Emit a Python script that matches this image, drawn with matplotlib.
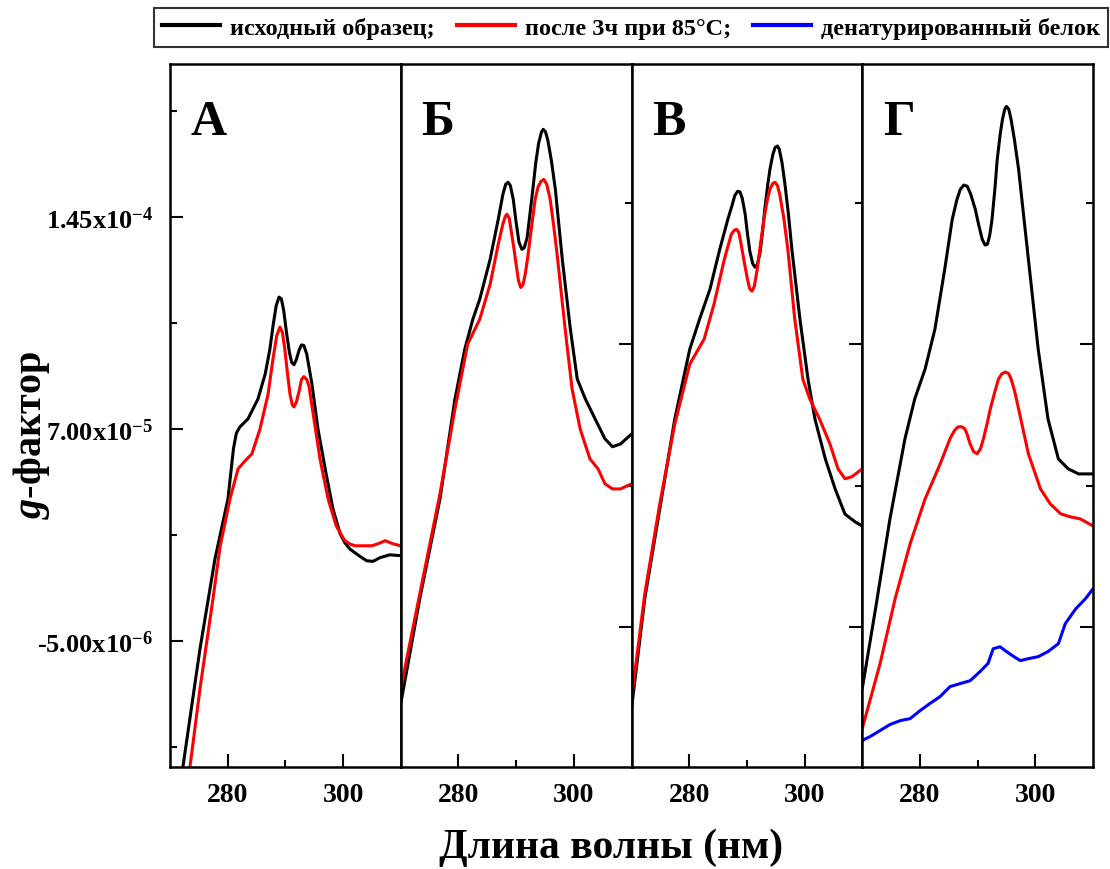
import numpy as np
import matplotlib
matplotlib.use('Agg')
import matplotlib.pyplot as plt
from matplotlib.lines import Line2D

plt.rcParams['font.family'] = ['Liberation Serif', 'DejaVu Serif']
plt.rcParams['font.weight'] = 'bold'
plt.rcParams['mathtext.fontset'] = 'custom'
plt.rcParams['mathtext.rm'] = 'Liberation Serif:bold'
plt.rcParams['mathtext.bf'] = 'Liberation Serif:bold'
plt.rcParams['mathtext.it'] = 'Liberation Serif:bold:italic'

# CD spectra, g-factor in units of 1e-5
wl_a_k = [272.25, 275.2, 277.8, 280.05, 281.0, 281.5, 282.1, 283.5, 285.25, 286.5, 287.3, 287.9,
          288.4, 288.9, 289.3, 289.7, 290.2, 290.7, 291.1, 291.5, 291.9, 292.4, 292.8, 293.2,
          293.7, 294.6, 295.65, 296.9, 298.25, 299.5, 300.3, 301.2, 302.9, 304.1, 305.2, 306.4,
          308.1, 310.0]
g_a_k = [-4.93, -0.77, 2.41, 4.53, 6.3, 6.85, 7.07, 7.35, 8.06, 8.94, 9.8, 10.7,
         11.35, 11.66, 11.6, 11.2, 10.4, 9.7, 9.35, 9.27, 9.45, 9.8, 9.97, 9.95,
         9.65, 8.59, 7.0, 5.59, 4.17, 3.29, 2.98, 2.75, 2.5, 2.34, 2.32, 2.45,
         2.55, 2.52]
wl_a_r = [273.47, 275.2, 277.45, 278.67, 280.4, 281.8, 283.0, 284.2, 285.6, 287.0, 287.85, 288.5,
          289.06, 289.5, 289.9, 290.4, 290.8, 291.2, 291.5, 291.9, 292.4, 292.8, 293.2, 293.7,
          294.1, 294.95, 296.0, 297.4, 298.8, 300.3, 301.2, 302.1, 303.8, 305.0, 306.05, 307.3,
          308.65, 310.0]
g_a_r = [-4.93, -2.18, 1.0, 2.83, 4.53, 5.59, 5.87, 6.12, 7.0, 8.23, 9.47, 10.3,
         10.6, 10.4, 9.82, 8.9, 8.23, 7.85, 7.78, 7.95, 8.35, 8.75, 8.85, 8.75,
         8.5, 7.35, 5.94, 4.53, 3.58, 3.05, 2.93, 2.87, 2.87, 2.87, 2.94, 3.05,
         2.94, 2.87]

wl_b_k = [270.0, 273.3, 276.8, 279.4, 281.1, 282.5, 283.7, 285.5, 286.9, 287.7, 288.2, 288.6,
          289.0, 289.5, 290.0, 290.5, 291.0, 291.4, 291.9, 292.4, 292.9, 293.4, 293.9, 294.4,
          294.7, 295.1, 295.5, 296.1, 296.8, 298.0, 299.4, 300.6, 302.0, 303.7, 305.4, 306.7,
          308.1, 310.0]
g_b_k = [-2.71, 1.0, 4.53, 8.06, 9.82, 10.88, 11.59, 13.0, 14.41, 15.29, 15.65, 15.72,
         15.6, 15.12, 14.3, 13.6, 13.35, 13.4, 13.75, 14.6, 15.47, 16.4, 17.1, 17.5,
         17.59, 17.5, 17.2, 16.5, 15.47, 13.0, 10.53, 8.76, 8.06, 7.35, 6.65, 6.37,
         6.47, 6.82]
wl_b_r = [270.0, 273.3, 276.8, 279.4, 281.6, 283.7, 285.5, 286.9, 287.7, 288.1, 288.4, 288.8,
          289.1, 289.6, 290.0, 290.4, 290.8, 291.2, 291.6, 292.0, 292.4, 292.9, 293.3, 293.8,
          294.3, 294.8, 295.3, 295.9, 296.5, 297.1, 298.5, 299.7, 301.1, 302.8, 304.2, 305.4,
          306.7, 308.1, 310.0]
g_b_r = [-2.18, 1.17, 4.71, 7.71, 10.0, 10.88, 12.12, 13.53, 14.24, 14.5, 14.59, 14.45,
         14.06, 13.4, 12.82, 12.25, 12.0, 12.1, 12.5, 13.05, 13.7, 14.5, 15.12, 15.55,
         15.75, 15.82, 15.65, 15.12, 14.2, 13.18, 10.53, 8.41, 7.0, 5.94, 5.59, 5.06,
         4.88, 4.88, 5.06]

wl_v_k = [270.0, 272.3, 274.9, 277.5, 280.1, 281.8, 283.6, 285.3, 286.7, 287.5, 287.9, 288.4,
          288.8, 289.2, 289.7, 290.1, 290.5, 291.0, 291.4, 291.8, 292.3, 292.7, 293.1, 293.6,
          294.0, 294.5, 294.9, 295.3, 295.6, 296.1, 296.6, 297.2, 297.8, 299.2, 300.6, 301.8,
          303.6, 305.3, 307.0, 308.8, 310.0]
g_v_k = [-2.89, 1.0, 4.17, 7.35, 9.82, 10.88, 11.94, 13.35, 14.41, 14.95, 15.25, 15.4,
         15.38, 15.15, 14.6, 13.9, 13.3, 12.85, 12.72, 12.8, 13.25, 13.95, 14.76, 15.6,
         16.18, 16.7, 16.95, 17.0, 16.9, 16.4, 15.65, 14.6, 13.35, 10.88, 8.76, 7.35,
         5.94, 4.88, 3.99, 3.71, 3.57]
wl_v_r = [270.0, 272.3, 274.9, 277.5, 280.1, 282.6, 284.3, 286.1, 287.3, 287.8, 288.2, 288.6,
          289.0, 289.5, 290.1, 290.5, 290.9, 291.3, 291.8, 292.4, 293.1, 293.6, 294.0, 294.5,
          294.9, 295.3, 295.7, 296.4, 297.1, 298.3, 299.7, 300.9, 302.6, 304.4, 305.8, 307.0,
          308.2, 310.0]
g_v_r = [-2.53, 1.17, 4.35, 7.17, 9.29, 10.18, 11.41, 13.0, 13.88, 14.02, 14.06, 13.95,
         13.53, 12.95, 12.29, 11.95, 11.87, 12.05, 12.65, 13.6, 14.59, 15.15, 15.47, 15.68,
         15.72, 15.6, 15.29, 14.45, 13.35, 10.88, 8.76, 8.06, 7.35, 6.47, 5.59, 5.24,
         5.31, 5.59]

wl_g_k = [270.0, 272.3, 274.8, 277.4, 279.1, 280.9, 282.6, 284.3, 285.6, 286.4, 287.0, 287.6,
          288.2, 288.8, 289.6, 290.2, 290.8, 291.3, 291.7, 292.1, 292.5, 293.0, 293.4, 293.9,
          294.3, 294.7, 295.0, 295.4, 295.8, 296.4, 297.1, 298.8, 300.5, 302.2, 304.0, 305.7,
          307.5, 310.0]
g_g_k = [-2.18, 0.64, 3.82, 6.65, 8.06, 9.12, 10.53, 12.65, 14.41, 15.1, 15.47, 15.62,
         15.58, 15.3, 14.76, 14.2, 13.7, 13.5, 13.53, 13.85, 14.41, 15.5, 16.53, 17.4,
         17.94, 18.3, 18.4, 18.3, 17.94, 17.2, 16.18, 13.0, 9.82, 7.35, 5.94, 5.59,
         5.41, 5.41]
wl_g_r = [270.0, 273.1, 275.7, 278.3, 280.9, 283.5, 285.2, 286.0, 286.6, 287.2, 287.8, 288.2,
          288.7, 289.3, 289.9, 290.5, 291.0, 291.6, 292.2, 292.9, 293.6, 294.2, 294.8, 295.3,
          295.7, 296.4, 297.1, 298.8, 300.9, 302.6, 304.4, 306.1, 307.8, 310.0]
g_g_r = [-3.59, -1.29, 1.0, 2.94, 4.53, 5.76, 6.65, 6.95, 7.07, 7.08, 7.0, 6.8,
         6.47, 6.2, 6.12, 6.3, 6.65, 7.15, 7.71, 8.25, 8.76, 8.95, 9.01, 8.97,
         8.83, 8.35, 7.71, 6.12, 4.88, 4.35, 4.0, 3.89, 3.82, 3.57]
wl_g_b = [270.0, 271.4, 273.1, 274.8, 276.6, 278.3, 280.0, 281.7, 283.5, 285.2, 287.0, 288.7,
          290.4, 291.8, 292.7, 293.9, 294.8, 296.0, 297.4, 298.8, 300.5, 302.2, 304.0, 305.2,
          307.0, 308.7, 310.0]
g_g_b = [-4.01, -3.87, -3.66, -3.45, -3.31, -3.24, -2.96, -2.71, -2.46, -2.11, -2.0, -1.9,
         -1.58, -1.29, -0.77, -0.70, -0.84, -1.01, -1.19, -1.12, -1.05, -0.87, -0.59, 0.12,
         0.64, 1.0, 1.35]

panel_labels = ['А', 'Б', 'В', 'Г']
series_names = ['исходный образец;', 'после 3ч при 85°C;', 'денатурированный белок']
colors = ['black', 'red', 'blue']

panels = [
    [(wl_a_k, g_a_k, 0), (wl_a_r, g_a_r, 1)],
    [(wl_b_k, g_b_k, 0), (wl_b_r, g_b_r, 1)],
    [(wl_v_k, g_v_k, 0), (wl_v_r, g_v_r, 1)],
    [(wl_g_k, g_g_k, 0), (wl_g_r, g_g_r, 1), (wl_g_b, g_g_b, 2)],
]

yticks_major = [-5.0e-6, 7.0e-5, 1.45e-4]
ytick_labels = [r'-$\mathbf{5.00x10^{-6}}$', r'$\mathbf{7.00x10^{-5}}$', r'$\mathbf{1.45x10^{-4}}$']
yticks_minor = [-4.25e-5, 3.25e-5, 1.075e-4, 1.825e-4]
right_major = [0.0, 1.0e-4]
right_minor = [5.0e-5, 1.5e-4]

W, H = 1110, 870
fig = plt.figure(figsize=(W / 100, H / 100), dpi=100)

left, right, top, bottom = 170, 1093, 65, 768
pw = (right - left) / 4

for i, curves in enumerate(panels):
    ax = fig.add_axes([(left + i * pw) / W, 1 - bottom / H, pw / W, (bottom - top) / H])
    for wl, g, c in curves:
        ax.plot(wl, np.array(g) * 1e-5, color=colors[c], lw=2.2,
                solid_joinstyle='round', solid_capstyle='round')
    ax.set_xlim(270, 310)
    ax.set_ylim(-4.95e-5, 1.99e-4)
    for s in ax.spines.values():
        s.set_linewidth(1.8)

    ax.set_xticks([280, 300])
    ax.set_xticks([290], minor=True)
    ax.tick_params(axis='x', which='major', direction='in', length=9.5, width=1.5,
                   labelsize=20, pad=11, top=False)
    ax.tick_params(axis='x', which='minor', direction='in', length=5, width=1.5, top=False)

    if i == 0:
        ax.set_yticks(yticks_major)
        ax.set_yticklabels(ytick_labels)
        ax.set_yticks(yticks_minor, minor=True)
        ax.tick_params(axis='y', which='major', direction='in', length=9.5, width=1.5,
                       labelsize=19, pad=12, right=False)
        ax.tick_params(axis='y', which='minor', direction='in', length=5, width=1.5, right=False)
    else:
        ax.set_yticks(right_major)
        ax.set_yticks(right_minor, minor=True)
        ax.tick_params(axis='y', which='both', direction='in', width=1.5,
                       left=False, right=True, labelleft=False)
        ax.tick_params(axis='y', which='major', length=9.5)
        ax.tick_params(axis='y', which='minor', length=5)

    ax.text(0.09, 0.9, panel_labels[i], transform=ax.transAxes, fontsize=36,
            fontweight='bold', va='baseline', ha='left')

handles = [Line2D([], [], color=c, lw=3) for c in colors]
leg = fig.legend(handles, series_names, loc='upper center', ncol=3,
                 bbox_to_anchor=(631 / W, 1 - 9 / H), fontsize=17.5, frameon=True,
                 fancybox=False, handlelength=2.4, handletextpad=0.4, columnspacing=0.9,
                 borderpad=0.35, borderaxespad=0)
leg.get_frame().set_edgecolor('black')
leg.get_frame().set_linewidth(1.5)

fig.text(611 / W, 1 - 848 / H, 'Длина волны (нм)', fontsize=30, fontweight='bold',
         ha='center', va='center')
fig.text(31 / W, 1 - 435 / H, r'$\mathit{g}$-фактор', fontsize=29, fontweight='bold',
         ha='center', va='center', rotation=90)

fig.savefig('out.png', dpi=100)
